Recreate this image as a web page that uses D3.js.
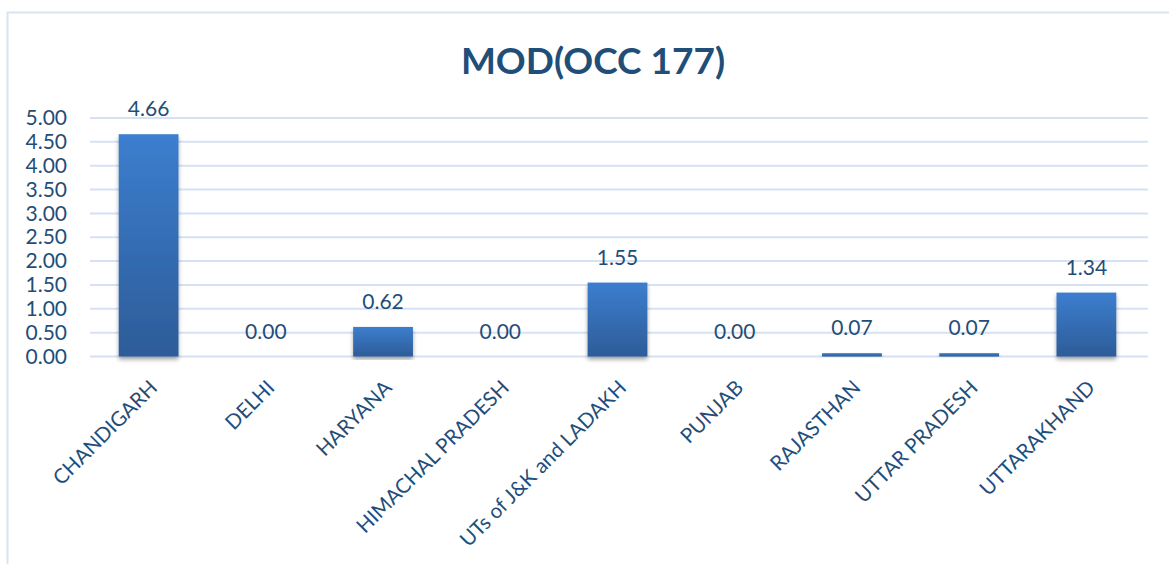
<!DOCTYPE html>
<html>
<head>
<meta charset="utf-8">
<script src="https://cdn.jsdelivr.net/npm/d3@7"></script>
<style>
  body { margin: 0; background: #fff; }
  svg text { font-family: Lato, "Open Sans", sans-serif; }
</style>
</head>
<body>
<svg id="chart" width="1169" height="564"></svg>
<script>
const states = ["CHANDIGARH", "DELHI", "HARYANA", "HIMACHAL PRADESH", "UTs of J&K and LADAKH",
                "PUNJAB", "RAJASTHAN", "UTTAR PRADESH", "UTTARAKHAND"]
const values = [4.66, 0.00, 0.62, 0.00, 1.55, 0.00, 0.07, 0.07, 1.34]
const yTicks = [0, 0.5, 1, 1.5, 2, 2.5, 3, 3.5, 4, 4.5, 5]

const svg = d3.select("#chart")
const textColor = "#1f4e79"

// chart frame, cut off on the right and bottom like the screenshot
svg.append("rect")
    .attr("x", 7.5).attr("y", 12.5)
    .attr("width", 1200).attr("height", 600)
    .attr("fill", "none")
    .attr("stroke", "#d9e4f2")
    .attr("stroke-width", 2)

const defs = svg.append("defs")
const grad = defs.append("linearGradient")
    .attr("id", "barGrad")
    .attr("x1", 0).attr("y1", 0).attr("x2", 0).attr("y2", 1)
grad.append("stop").attr("offset", "0%").attr("stop-color", "#3c7ecf")
grad.append("stop").attr("offset", "100%").attr("stop-color", "#2d5c98")

const shadow = defs.append("filter").attr("id", "shadow")
    .attr("x", "-20%").attr("y", "-5%").attr("width", "140%").attr("height", "115%")
shadow.append("feDropShadow")
    .attr("dx", 0).attr("dy", 3).attr("stdDeviation", 2)
    .attr("flood-color", "#000").attr("flood-opacity", 0.35)

const x = d3.scaleBand()
    .domain(states)
    .range([90, 1145])
    .paddingInner(0.49)
    .paddingOuter(0.245)

const y = d3.scaleLinear()
    .domain([0, 5])
    .range([356.5, 118])

// title
svg.append("text")
    .attr("x", 593).attr("y", 74)
    .attr("text-anchor", "middle")
    .attr("font-size", 37)
    .attr("font-weight", "bold")
    .attr("fill", textColor)
    .text("MOD(OCC 177)")

// gridlines
svg.append("g")
    .selectAll("line")
    .data(yTicks)
    .join("line")
    .attr("x1", 90).attr("x2", 1148)
    .attr("y1", d => y(d)).attr("y2", d => y(d))
    .attr("stroke", "#d6e2f3")
    .attr("stroke-width", 2)

// y axis labels
const yAxis = svg.append("g")
    .attr("transform", "translate(67,0)")
    .call(d3.axisLeft(y).tickValues(yTicks).tickFormat(d3.format(".2f")).tickSize(0).tickPadding(0))
yAxis.select(".domain").remove()
yAxis.selectAll("text")
    .attr("font-size", 21)
    .attr("fill", textColor)
    .attr("font-family", "Lato, sans-serif")

// bars
svg.append("g")
    .selectAll("rect")
    .data(values)
    .join("rect")
    .attr("x", (d, i) => x(states[i]))
    .attr("y", d => y(d))
    .attr("width", x.bandwidth())
    .attr("height", d => y(0) - y(d))
    .attr("fill", "url(#barGrad)")
    .attr("filter", d => d > 0 ? "url(#shadow)" : null)

// value labels
svg.append("g")
    .selectAll("text")
    .data(values)
    .join("text")
    .attr("x", (d, i) => x(states[i]) + x.bandwidth() / 2)
    .attr("y", d => y(d) - 18)
    .attr("text-anchor", "middle")
    .attr("font-size", 21)
    .attr("fill", textColor)
    .text(d => d.toFixed(2))

// category labels, rotated
svg.append("g")
    .selectAll("text")
    .data(states)
    .join("text")
    .attr("transform", d => `translate(${x(d) + x.bandwidth() / 2 + 10},389) rotate(-45)`)
    .attr("text-anchor", "end")
    .attr("font-size", 20.5)
    .attr("fill", textColor)
    .text(d => d)
</script>
</body>
</html>
